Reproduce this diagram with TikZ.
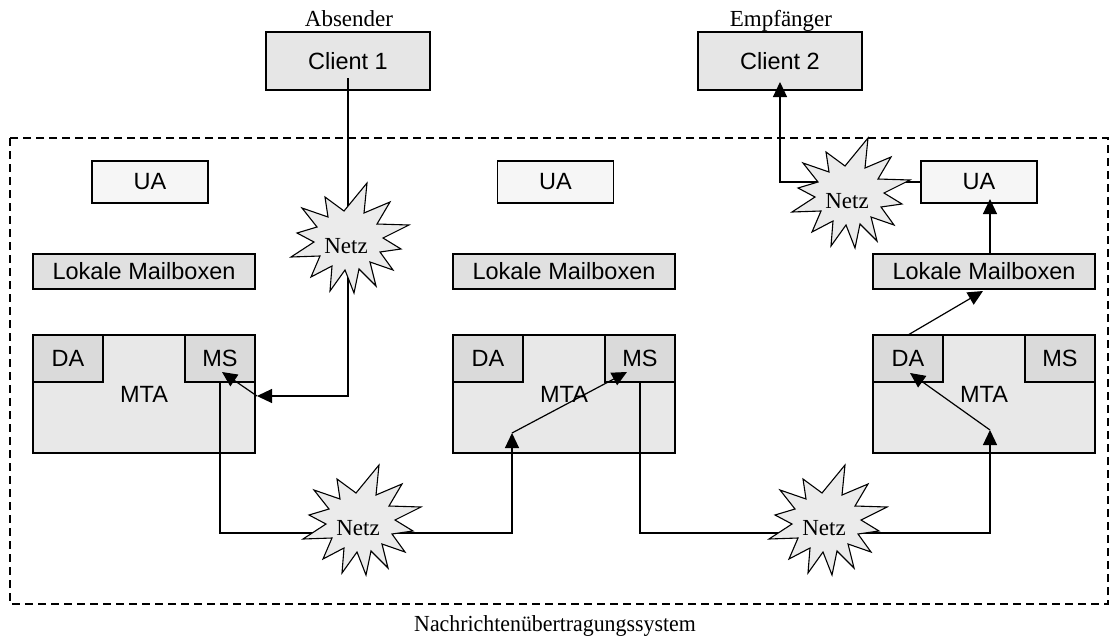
\documentclass[tikz,border=0pt]{standalone}
\usepackage{fontspec}
\setmainfont{Liberation Serif}
\newfontfamily\arialfont{Liberation Sans}
\usetikzlibrary{arrows.meta}
\pgfdeclarelayer{conn}
\pgfdeclarelayer{stars}
\pgfsetlayers{main,conn,stars}

\definecolor{clientgray}{HTML}{E6E6E6}
\definecolor{uagray}{HTML}{F6F6F6}
\definecolor{mbgray}{HTML}{E0E0E0}
\definecolor{mtagray}{HTML}{E8E8E8}
\definecolor{subgray}{HTML}{DADADA}
\definecolor{stargray}{HTML}{EBEBEB}

\tikzset{
  netzstar/.pic={
    \draw[fill=stargray, line width=1.1pt, line join=miter]
      (-24,-42) -- (-5,-28) -- (18,-56) -- (15,-26) -- (41,-37) -- (28,-15)
      -- (60,-14) -- (34,-1) -- (52,10) -- (31,13) -- (44,31) -- (21,23)
      -- (27,47) -- (10,30) -- (5,54) -- (-4,31) -- (-19,52) -- (-17,27)
      -- (-38,38) -- (-29,17) -- (-58,18) -- (-35,3) -- (-52,-6) -- (-32,-12)
      -- (-47,-31) -- (-21,-22) -- cycle;
  }
}

\begin{document}
\begin{tikzpicture}[x=1pt,y=-1pt,
  every node/.style={inner sep=0pt, outer sep=0pt},
  sans/.style={font=\arialfont\fontsize{23.5}{27}\selectfont},
  serif/.style={font=\fontsize{23}{27}\selectfont},
  box/.style={draw=black, line width=1.4pt, sans},
  clientbox/.style={box, fill=clientgray, minimum width=164pt, minimum height=58pt},
  uabox/.style={box, fill=uagray, minimum width=116pt, minimum height=42pt},
  mailbox/.style={box, fill=mbgray, minimum width=222pt, minimum height=35pt},
  mtabox/.style={box, fill=mtagray, minimum width=222pt, minimum height=118pt},
  subbox/.style={box, fill=subgray, minimum width=70pt, minimum height=47pt},
  link/.style={draw=black, line width=1.2pt},
  arrow/.style={link, -{Triangle[length=15pt,width=14pt]}},
  frame/.style={draw=black, line width=1.5pt, dash pattern=on 8pt off 5pt},
  netz/.style={serif},
]
\useasboundingbox (0,0) rectangle (1111,640);

% system boundary
\draw[frame] (10,138) rectangle (1108,604);
\node[serif, anchor=base] (sys) at (555,631) {\scalebox{0.95}[1]{Nachrichten\"ubertragungssystem}};

% clients
\node[serif, anchor=base] (abs) at (349,26) {Absender};
\node[serif, anchor=base] (emp) at (781,26) {Empf\"anger};
\node[clientbox] (c1) at (348,61) {Client 1};
\node[clientbox] (c2) at (780,61) {Client 2};

% user agents
\node[uabox] (ua1) at (150,182) {UA};
\node[uabox] (ua2) at (555.5,182) {UA};
\node[uabox] (ua3) at (979,182) {UA};

% local mailboxes
\node[mailbox] (lm1) at (144,271.5) {Lokale Mailboxen};
\node[mailbox] (lm2) at (564,271.5) {Lokale Mailboxen};
\node[mailbox] (lm3) at (984,271.5) {Lokale Mailboxen};

% message transfer agents with delivery agent and message store
\node[mtabox] (mta1) at (144,394) {MTA};
\node[mtabox] (mta2) at (564,394) {MTA};
\node[mtabox] (mta3) at (984,394) {MTA};
\node[subbox] (da1) at (68,358.5) {DA};
\node[subbox] (ms1) at (220,358.5) {MS};
\node[subbox] (da2) at (488,358.5) {DA};
\node[subbox] (ms2) at (640,358.5) {MS};
\node[subbox] (da3) at (908,358.5) {DA};
\node[subbox] (ms3) at (1060,358.5) {MS};

% networks
\begin{pgfonlayer}{stars}
  \pic at (349,239) {netzstar};
  \node[netz] (n1) at (346,246) {Netz};
  \pic at (850,194) {netzstar};
  \node[netz] (n2) at (847,201) {Netz};
  \pic at (361,521) {netzstar};
  \node[netz] (n3) at (358,528) {Netz};
  \pic at (827,521) {netzstar};
  \node[netz] (n4) at (824,528) {Netz};
\end{pgfonlayer}

% connection points
\coordinate (c1out) at (348,78);
\coordinate (j1) at (257,396);
\coordinate (ms1in) at (222,372);
\coordinate (bus) at (0,533);
\coordinate (j2) at (512,433);
\coordinate (ms2in) at (627,372);
\coordinate (j3) at (990,430);
\coordinate (da3in) at (910,373);
\coordinate (lm3in) at (983,291);
\coordinate (lm3out) at (990,254);
\coordinate (ua3in) at (990,199);
\coordinate (c2in) at (780,82);

\begin{pgfonlayer}{conn}
  \draw[arrow] (c1out) -- (c1out |- j1) -- (j1);
  \draw[arrow] (j1) -- (ms1in);
  \draw[arrow] (ms1.south) -- (ms1.south |- bus) -| (j2);
  \draw[arrow] (j2) -- (ms2in);
  \draw[arrow] (ms2.south) -- (ms2.south |- bus) -| (j3);
  \draw[arrow] (j3) -- (da3in);
  \draw[arrow] (da3.north) -- (lm3in);
  \draw[arrow] (lm3out) -- (ua3in);
  \draw[arrow] (ua3.west) -| (c2in);
\end{pgfonlayer}
\end{tikzpicture}
\end{document}
